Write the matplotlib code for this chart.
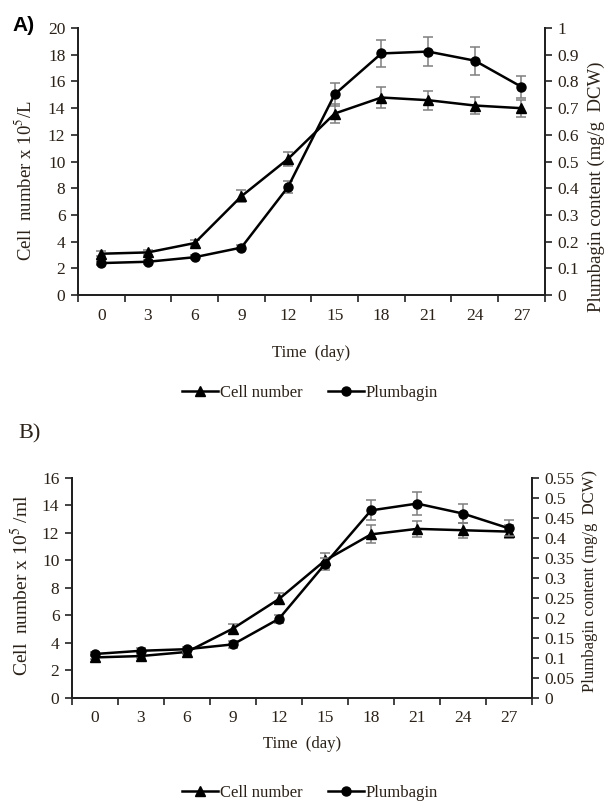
import matplotlib
matplotlib.use('Agg')
import matplotlib.pyplot as plt
from matplotlib.lines import Line2D

plt.rcParams['font.family'] = ['Liberation Serif', 'DejaVu Serif']
plt.rcParams['mathtext.fontset'] = 'stix'

TEXT = '#2a2118'
ERR = '#7f7f7f'

days = [0, 3, 6, 9, 12, 15, 18, 21, 24, 27]

# panel A
cells_a = [3.1, 3.2, 3.9, 7.4, 10.2, 13.6, 14.8, 14.6, 14.2, 14.0]
cells_a_err = [0.2, 0.2, 0.2, 0.45, 0.55, 0.7, 0.75, 0.7, 0.65, 0.65]
plumb_a = [0.12, 0.125, 0.142, 0.178, 0.405, 0.752, 0.905, 0.912, 0.878, 0.78]
plumb_a_err = [0.008, 0.008, 0.008, 0.01, 0.022, 0.042, 0.052, 0.055, 0.052, 0.042]

# panel B
cells_b = [2.95, 3.05, 3.35, 5.05, 7.2, 10.0, 11.9, 12.3, 12.2, 12.1]
cells_b_err = [0.15, 0.15, 0.15, 0.3, 0.4, 0.55, 0.65, 0.6, 0.55, 0.45]
plumb_b = [0.11, 0.118, 0.122, 0.134, 0.198, 0.335, 0.469, 0.486, 0.461, 0.424]
plumb_b_err = [0.006, 0.006, 0.006, 0.008, 0.01, 0.015, 0.025, 0.028, 0.024, 0.02]


def style_axes(ax, ax2, ymax, yticks, y2max, y2ticks, y2fmt):
    ax.set_xlim(-1.5, 28.5)
    ax.set_ylim(0, ymax)
    ax2.set_ylim(0, y2max)
    ax.set_xticks(days)
    ax.set_xticklabels([str(d) for d in days])
    ax.set_xticks([d - 1.5 for d in days] + [28.5], minor=True)
    ax.tick_params(axis='x', which='major', length=0, pad=9, labelsize=12.5, labelcolor=TEXT)
    ax.tick_params(axis='x', which='minor', length=5, width=1.2, direction='out', color='#222222')
    ax.set_yticks(yticks)
    ax.tick_params(axis='y', length=5, width=1.2, direction='out', labelsize=12.5,
                   labelcolor=TEXT, color='#222222', pad=4)
    ax2.set_yticks(y2ticks)
    ax2.set_yticklabels([y2fmt(v) for v in y2ticks])
    ax2.tick_params(axis='y', length=5, width=1.2, direction='out', labelsize=12.5,
                    labelcolor=TEXT, color='#222222', pad=4)
    for a in (ax, ax2):
        a.spines['top'].set_visible(False)
        for s in ('left', 'right', 'bottom'):
            a.spines[s].set_linewidth(1.4)
            a.spines[s].set_color('#222222')


def draw_series(ax, ax2, cells, cells_err, plumb, plumb_err):
    ax.errorbar(days, cells, yerr=cells_err, fmt='none', ecolor=ERR, elinewidth=1.1,
                capsize=3.5, capthick=1.1, zorder=2)
    ax.plot(days, cells, color='black', lw=1.8, marker='^', ms=6.5, zorder=3)
    ax2.errorbar(days, plumb, yerr=plumb_err, fmt='none', ecolor=ERR, elinewidth=1.1,
                 capsize=3.5, capthick=1.1, zorder=2)
    ax2.plot(days, plumb, color='black', lw=1.8, marker='o', ms=6.5, zorder=3)


def fmt_a(v):
    return '0' if v == 0 else ('1' if v == 1 else f'{v:.1f}')


def fmt_b(v):
    if v == 0:
        return '0'
    return f'{v:.2f}'.rstrip('0')


fig = plt.figure(figsize=(6.04, 8.02), dpi=100)

handles = [Line2D([], [], color='black', lw=1.8, marker='^', ms=6.5),
           Line2D([], [], color='black', lw=1.8, marker='o', ms=6.5)]
labels = ['Cell number', 'Plumbagin']

# Panel A
axA = fig.add_axes([0.129, 0.632, 0.773, 0.333])
axA2 = axA.twinx()
draw_series(axA, axA2, cells_a, cells_a_err, plumb_a, plumb_a_err)
style_axes(axA, axA2, 20, range(0, 21, 2), 1.0,
           [0, 0.1, 0.2, 0.3, 0.4, 0.5, 0.6, 0.7, 0.8, 0.9, 1.0], fmt_a)
axA.set_xlabel('Time  (day)', fontsize=12, color=TEXT)
axA.xaxis.set_label_coords(0.5, -0.187)
axA.set_ylabel('Cell  number x 10$^5$/L', fontsize=13.5, color=TEXT)
axA.yaxis.set_label_coords(-0.092, 0.427)
axA2.set_ylabel('Plumbagin content (mg/g  DCW)', fontsize=13.5, color=TEXT)
axA2.yaxis.set_label_coords(1.092, 0.405)
fig.text(0.02, 0.968, 'A)', fontsize=15, fontweight='bold', color='black',
         family=['Liberation Sans', 'DejaVu Sans'], va='center')
fig.legend(handles, labels, loc='center', bbox_to_anchor=(0.513, 0.51), ncol=2,
           frameon=False, fontsize=12, handlelength=2.2, handletextpad=0.1,
           columnspacing=1.5, labelcolor=TEXT)

# Panel B
axB = fig.add_axes([0.119, 0.1297, 0.762, 0.2743])
axB2 = axB.twinx()
draw_series(axB, axB2, cells_b, cells_b_err, plumb_b, plumb_b_err)
style_axes(axB, axB2, 16, range(0, 17, 2), 0.55,
           [0, 0.05, 0.1, 0.15, 0.2, 0.25, 0.3, 0.35, 0.4, 0.45, 0.5, 0.55], fmt_b)
axB.set_xlabel('Time  (day)', fontsize=12, color=TEXT)
axB.xaxis.set_label_coords(0.5, -0.173)
axB.set_ylabel('Cell  number x 10$^5$ /ml', fontsize=14, color=TEXT)
axB.yaxis.set_label_coords(-0.085, 0.51)
axB2.set_ylabel('Plumbagin content (mg/g  DCW)', fontsize=12, color=TEXT)
axB2.yaxis.set_label_coords(1.109, 0.53)
fig.text(0.03, 0.459, 'B)', fontsize=16, color=TEXT, va='center')
fig.legend(handles, labels, loc='center', bbox_to_anchor=(0.513, 0.011), ncol=2,
           frameon=False, fontsize=12, handlelength=2.2, handletextpad=0.1,
           columnspacing=1.5, labelcolor=TEXT)

fig.savefig('out.png', dpi=100, facecolor='white')
